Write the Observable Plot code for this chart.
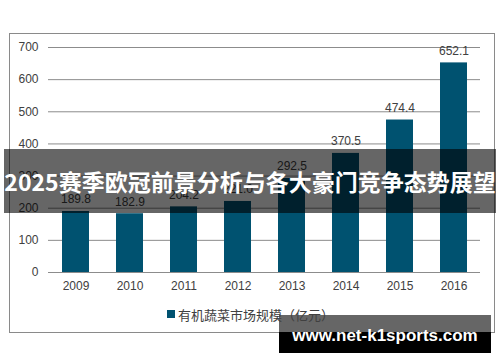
<!DOCTYPE html>
<html><head><meta charset="utf-8">
<script src="https://cdn.jsdelivr.net/npm/d3@7"></script>
<script src="https://cdn.jsdelivr.net/npm/@observablehq/plot@0.6"></script>
<style>
html,body{margin:0;padding:0;background:#fff;}
#wrap{position:relative;width:500px;height:362px;overflow:hidden;font-family:"Liberation Sans",Arial,sans-serif;}
#frame{position:absolute;left:9px;top:33px;width:486px;height:300px;border:1px solid #8a8a8a;box-sizing:border-box;pointer-events:none;}
#legend{position:absolute;left:167px;top:306px;height:16px;font-size:13px;color:#404040;font-family:"Noto Sans CJK SC","Liberation Sans",sans-serif;display:flex;align-items:center;white-space:nowrap;}
#legend span.sw{display:inline-block;width:8px;height:8px;background:#005270;margin-right:3px;}
#banner{position:absolute;left:4px;top:149px;width:492px;height:64px;background:rgba(0,0,0,0.6);color:#fff;font-weight:bold;font-size:23px;line-height:64px;text-align:center;font-family:"Noto Sans CJK SC",sans-serif;white-space:nowrap;}
#wm{position:absolute;left:279px;top:315px;width:212px;height:38px;background:linear-gradient(#666 0,#666 17px,#000 17px,#000 38px);color:#fff;font-weight:bold;font-size:17px;line-height:42px;text-align:center;font-family:"Liberation Sans",Arial,sans-serif;white-space:nowrap;}
</style></head>
<body>
<div id="wrap">
<div id="chart"></div>
<div id="frame"></div>
<div id="banner">2025赛季欧冠前景分析与各大豪门竞争态势展望</div>
<div id="wm">www.net-k1sports.com</div>
<div id="legend"><span class="sw"></span>有机蔬菜市场规模（亿元）</div>
</div>
<script>
const years = ["2009","2010","2011","2012","2013","2014","2015","2016"];
const values = [189.8,182.9,204.2,221.0,292.5,370.5,474.4,652.1];
const yTicks = [0,100,200,300,400,500,600,700];
const seriesName = "有机蔬菜市场规模（亿元）";
const barColor = "#005270";

const data = years.map((y,i)=>({year:y,value:values[i]}));

const chart = Plot.plot({
  width:500,height:362,
  marginLeft:48,marginRight:20,marginTop:47,marginBottom:90,
  style:{fontFamily:"'Liberation Sans',Arial,sans-serif",fontSize:"12px",color:"#404040",background:"transparent"},
  x:{domain:years,paddingInner:0.5,paddingOuter:0.25,label:null},
  y:{domain:[0,700],label:null},
  marks:[
    Plot.gridY(yTicks,{stroke:"#8c8c8c",strokeOpacity:1}),
    Plot.barY(data,{x:"year",y:"value",fill:barColor}),
    Plot.ruleY([0],{stroke:"#8c8c8c"}),
    Plot.text(data,{x:"year",y:"value",text:d=>d.value.toFixed(1),dy:-12,fill:"#404040",fontSize:12}),
    Plot.axisY(yTicks,{tickSize:0,tickPadding:10,fontSize:12,fill:"#404040",label:null}),
    Plot.axisX({tickSize:0,tickPadding:9,fontSize:12,fill:"#404040",label:null})
  ]
});
document.getElementById("chart").appendChild(chart);
</script>
</body></html>
